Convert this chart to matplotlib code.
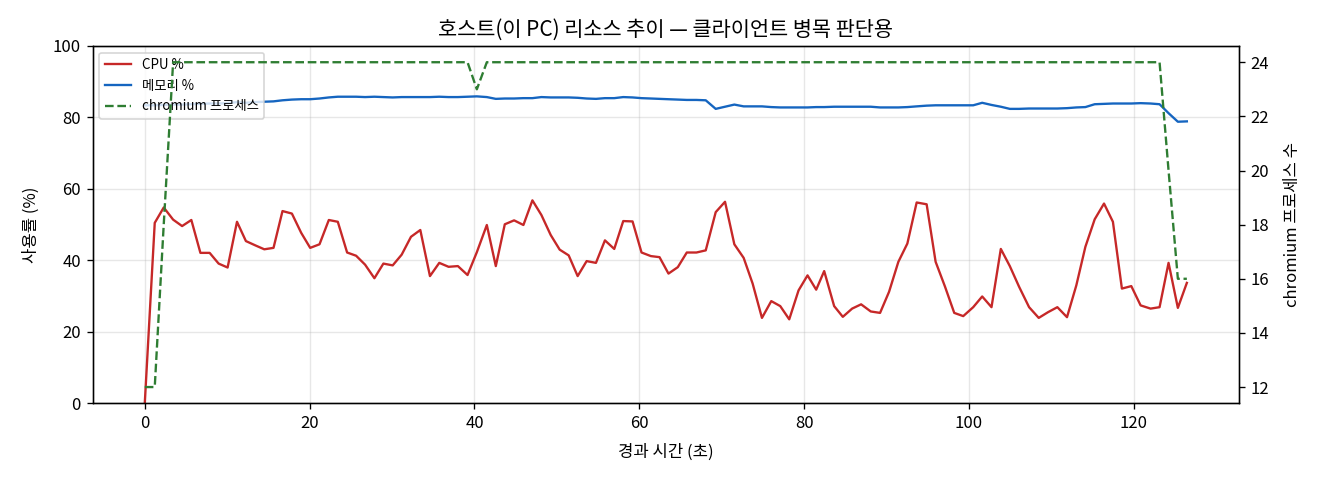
import matplotlib
matplotlib.use("Agg")
import matplotlib.pyplot as plt

plt.rcParams['font.family'] = ['Noto Sans CJK KR', 'DejaVu Sans']
plt.rcParams['axes.unicode_minus'] = False

# elapsed time (s)
t = [0.00, 1.21, 2.30, 3.44, 4.53, 5.65, 6.75, 7.87, 8.96, 10.05,
     11.19, 12.27, 13.41, 14.50, 15.62, 16.71, 17.85, 18.98, 20.07, 21.20,
     22.33, 23.42, 24.55, 25.64, 26.73, 27.86, 28.95, 30.08, 31.17, 32.30,
     33.43, 34.60, 35.73, 36.86, 37.99, 39.16, 40.29, 41.50, 42.59, 43.68,
     44.81, 45.94, 47.03, 48.12, 49.25, 50.34, 51.43, 52.52, 53.61, 54.74,
     55.83, 56.96, 58.05, 59.18, 60.27, 61.40, 62.45, 63.54, 64.67, 65.76,
     66.93, 68.06, 69.27, 70.40, 71.53, 72.66, 73.75, 74.88, 76.01, 77.10,
     78.19, 79.32, 80.41, 81.46, 82.43, 83.64, 84.69, 85.82, 86.91, 88.08,
     89.21, 90.30, 91.43, 92.52, 93.65, 94.86, 95.95, 97.08, 98.21, 99.30,
     100.51, 101.60, 102.73, 103.86, 104.95, 106.08, 107.29, 108.46, 109.59, 110.72,
     111.89, 113.02, 114.12, 115.25, 116.38, 117.46, 118.55, 119.69, 120.82, 122.03,
     123.12, 124.21, 125.34, 126.43]

cpu = [0.0, 50.5, 54.8, 51.4, 49.6, 51.3, 42.1, 42.1, 39.1, 38.0,
       50.8, 45.4, 44.2, 43.1, 43.5, 53.8, 53.1, 47.7, 43.5, 44.5,
       51.3, 50.8, 42.2, 41.3, 38.8, 35.0, 39.1, 38.6, 41.6, 46.6,
       48.5, 35.6, 39.3, 38.2, 38.4, 35.9, 42.3, 49.9, 38.4, 50.1,
       51.2, 49.9, 56.8, 52.7, 47.1, 43.0, 41.4, 35.6, 39.8, 39.3,
       45.6, 43.2, 51.0, 50.9, 42.2, 41.2, 40.9, 36.3, 38.1, 42.2,
       42.2, 42.8, 53.5, 56.4, 44.5, 40.7, 33.5, 23.9, 28.6, 27.2,
       23.5, 31.6, 35.8, 31.8, 37.0, 27.2, 24.2, 26.5, 27.7, 25.7,
       25.3, 31.2, 39.6, 44.7, 56.2, 55.7, 39.6, 32.7, 25.3, 24.4,
       26.9, 29.9, 26.9, 43.2, 38.4, 32.6, 26.9, 23.9, 25.5, 26.9,
       24.1, 33.0, 43.8, 51.5, 55.9, 50.8, 32.1, 32.8, 27.4, 26.5,
       26.9, 39.3, 26.7, 33.7]

mem = [83.4, 83.4, 83.5, 83.6, 83.6, 83.7, 83.8, 83.9, 83.9, 84.0,
       84.3, 84.1, 84.3, 84.4, 84.5, 84.8, 85.0, 85.1, 85.1, 85.3,
       85.6, 85.8, 85.8, 85.8, 85.7, 85.8, 85.7, 85.6, 85.7, 85.7,
       85.7, 85.7, 85.8, 85.7, 85.7, 85.8, 85.9, 85.7, 85.2, 85.3,
       85.3, 85.4, 85.4, 85.7, 85.6, 85.6, 85.6, 85.5, 85.3, 85.2,
       85.4, 85.4, 85.7, 85.6, 85.4, 85.3, 85.2, 85.1, 85.0, 84.9,
       84.9, 84.8, 82.4, 83.0, 83.6, 83.1, 83.1, 83.1, 82.9, 82.8,
       82.8, 82.8, 82.8, 82.9, 82.9, 83.0, 83.0, 83.0, 83.0, 83.0,
       82.8, 82.8, 82.8, 82.9, 83.1, 83.3, 83.4, 83.4, 83.4, 83.4,
       83.4, 84.1, 83.5, 83.0, 82.4, 82.4, 82.5, 82.5, 82.5, 82.5,
       82.6, 82.8, 82.9, 83.7, 83.8, 83.9, 83.9, 83.9, 84.0, 83.9,
       83.7, 81.2, 78.8, 78.9]

chromium = [12, 12, 18] + [24] * 33 + [23] + [24] * 74 + [20, 16, 16]

fig = plt.figure(figsize=(11, 4), dpi=120)
ax = fig.add_subplot(111)
fig.subplots_adjust(left=0.0702, right=0.9386, top=0.9042, bottom=0.1598)

l1, = ax.plot(t, cpu, color='#c62828', lw=1.4, label='CPU %')
l2, = ax.plot(t, mem, color='#1565c0', lw=1.4, label='메모리 %')
ax.set_ylim(0, 100)
ax.set_xlabel('경과 시간 (초)', labelpad=7)
ax.set_ylabel('사용률 (%)', labelpad=8)
ax.grid(True, alpha=0.3)
ax.set_title('호스트(이 PC) 리소스 추이 — 클라이언트 병목 판단용', fontsize=12.5)

ax2 = ax.twinx()
l3, = ax2.plot(t, chromium, color='#2e7d32', lw=1.4, ls='--', label='chromium 프로세스')
ax2.set_ylabel('chromium 프로세스 수', labelpad=9)

ax.legend(handles=[l1, l2, l3], loc='upper left', fontsize=8)

fig.savefig('out.png', dpi=120)
